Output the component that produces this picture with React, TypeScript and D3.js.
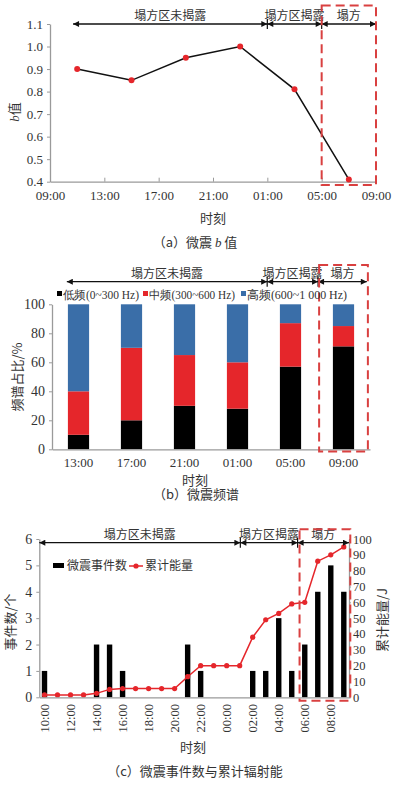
import { useEffect, useRef } from "react";
import * as d3 from "d3";

// (a) micro-seismic b value
const bTickLabels = ["09:00", "13:00", "17:00", "21:00", "01:00", "05:00", "09:00"];
const bHours = [2, 6, 10, 14, 18, 22]; // hours after 09:00
const bValues = [0.9, 0.85, 0.95, 1.0, 0.81, 0.41];
const bYTicks = [0.4, 0.5, 0.6, 0.7, 0.8, 0.9, 1.0, 1.1];

// (b) spectrum share
const specTimes = ["13:00", "17:00", "21:00", "01:00", "05:00", "09:00"];
const lowFreq = [10, 20, 30, 28, 57, 71];
const midFreq = [30, 50, 35, 32, 30, 14];
const highFreq = [60, 30, 35, 40, 13, 15];
const specTicks = [0, 20, 40, 60, 80, 100];
const specLegend = ["低频(0~300 Hz)", "中频(300~600 Hz)", "高频(600~1 000 Hz)"];

// (c) event counts and cumulative energy
const eventHours = [
    "10:00", "11:00", "12:00", "13:00", "14:00", "15:00", "16:00", "17:00",
    "18:00", "19:00", "20:00", "21:00", "22:00", "23:00", "00:00", "01:00",
    "02:00", "03:00", "04:00", "05:00", "06:00", "07:00", "08:00", "09:00",
];
const eventCounts = [1, 0, 0, 0, 2, 2, 1, 0, 0, 0, 0, 2, 1, 0, 0, 0, 1, 1, 3, 1, 2, 4, 5, 4];
const cumEnergy = [1.5, 1.5, 1.5, 1.5, 2.5, 5, 5.5, 5.5, 5.5, 5.5, 5.5, 13, 20, 20, 20, 20, 38, 49, 53, 59, 60, 86, 90, 95];
const countTicks = [0, 1, 2, 3, 4, 5, 6];
const energyTicks = [0, 10, 20, 30, 40, 50, 60, 70, 80, 90, 100];

// stage annotations
const phaseLabels = ["塌方区未揭露", "塌方区揭露", "塌方"];
const bPhases = [1.7, 16, 20, 24]; // hours after 09:00
const specPhases = [0.28, 4.06, 5.02, 5.94]; // in band steps
const eventPhases = [-0.4, 15.05, 19.45, 23.4]; // hour index

const NUM_FONT = "Liberation Serif, Times New Roman, DejaVu Serif, serif";
const CJK_FONT = "Noto Sans CJK SC, sans-serif";
const AXIS = "#9a9a9a";
const TEXT = "#333";
const RED = "#e5262b";
const DASH_RED = "#d94040";
const BLUE = "#3a6ea8";

export default function App() {
    const svgRef = useRef<SVGSVGElement>(null);

    useEffect(() => {
        if (!svgRef.current) return;
        const svg = d3.select(svgRef.current);
        svg.selectAll("*").remove();

        svg.append("defs")
            .append("marker")
            .attr("id", "arr")
            .attr("viewBox", "0 0 10 10")
            .attr("refX", 10)
            .attr("refY", 5)
            .attr("markerUnits", "userSpaceOnUse")
            .attr("markerWidth", 7)
            .attr("markerHeight", 6)
            .attr("orient", "auto-start-reverse")
            .append("path")
            .attr("d", "M0,0 L10,5 L0,10 z")
            .attr("fill", "#111");

        const g = svg.append("g");

        const styleAxis = (sel: any, fs = 13) => {
            sel.attr("font-family", NUM_FONT).attr("font-size", fs);
            sel.selectAll("path").attr("stroke", AXIS).attr("stroke-width", 1.3);
            sel.selectAll("line").attr("stroke", AXIS);
            sel.selectAll("text")
                .attr("fill", TEXT)
                .style("font-family", NUM_FONT)
                .attr("font-size", fs);
        };

        const drawPhases = (px: number[], y: number) => {
            for (let i = 0; i < 3; i++) {
                g.append("line")
                    .attr("x1", px[i])
                    .attr("x2", px[i + 1])
                    .attr("y1", y)
                    .attr("y2", y)
                    .attr("stroke", "#111")
                    .attr("stroke-width", 1.3)
                    .attr("marker-start", "url(#arr)")
                    .attr("marker-end", "url(#arr)");
                g.append("text")
                    .attr("x", (px[i] + px[i + 1]) / 2)
                    .attr("y", y - 4)
                    .attr("text-anchor", "middle")
                    .style("font-family", CJK_FONT)
                    .attr("font-size", 12)
                    .attr("fill", TEXT)
                    .text(phaseLabels[i]);
            }
            [px[1], px[2]].forEach((x) => {
                g.append("line")
                    .attr("x1", x)
                    .attr("x2", x)
                    .attr("y1", y - 5)
                    .attr("y2", y + 5)
                    .attr("stroke", "#111")
                    .attr("stroke-width", 1.2);
            });
        };

        const dashedBox = (x0: number, x1: number, y0: number, y1: number) => {
            g.append("rect")
                .attr("x", x0)
                .attr("y", y0)
                .attr("width", x1 - x0)
                .attr("height", y1 - y0)
                .attr("fill", "none")
                .attr("stroke", DASH_RED)
                .attr("stroke-width", 2)
                .attr("stroke-dasharray", "9,5");
        };

        const label = (x: number, y: number, txt: string, fs = 13, rotate = 0) => {
            return g.append("text")
                .attr("transform", `translate(${x},${y}) rotate(${rotate})`)
                .attr("text-anchor", "middle")
                .attr("dy", "0.35em")
                .style("font-family", CJK_FONT)
                .attr("font-size", fs)
                .attr("fill", TEXT)
                .text(txt);
        };

        // ---------- (a) b value ----------
        const xA = d3.scaleLinear().domain([0, 24]).range([50, 376]);
        const yA = d3.scaleLinear().domain([0.4, 1.1]).range([181.7, 24]);

        const axA = g.append("g")
            .attr("transform", `translate(0,${yA(0.4)})`)
            .call(
                d3.axisBottom(xA)
                    .tickValues(d3.range(0, 25, 4))
                    .tickFormat((d, i) => bTickLabels[i])
                    .tickSize(-4)
                    .tickSizeOuter(0)
                    .tickPadding(9),
            );
        styleAxis(axA);
        const ayA = g.append("g")
            .attr("transform", `translate(${xA(0)},0)`)
            .call(
                d3.axisLeft(yA)
                    .tickValues(bYTicks)
                    .tickFormat(d3.format(".1f"))
                    .tickSize(3)
                    .tickSizeOuter(0)
                    .tickPadding(4),
            );
        styleAxis(ayA);

        g.append("path")
            .datum(bValues)
            .attr("fill", "none")
            .attr("stroke", "#111")
            .attr("stroke-width", 1.5)
            .attr("d", d3.line<number>((d, i) => xA(bHours[i]), (d) => yA(d)));
        g.selectAll(".ptA")
            .data(bValues)
            .enter()
            .append("circle")
            .attr("cx", (d, i) => xA(bHours[i]))
            .attr("cy", (d) => yA(d))
            .attr("r", 3)
            .attr("fill", RED);

        drawPhases(bPhases.map((h) => xA(h)), yA(1.1));
        dashedBox(xA(20), xA(24), 5.5, 185);

        g.append("text")
            .attr("transform", `translate(14,112) rotate(-90)`)
            .attr("text-anchor", "middle")
            .attr("dy", "0.35em")
            .attr("font-size", 13)
            .attr("fill", TEXT)
            .call((t) => {
                t.append("tspan").style("font-family", NUM_FONT).attr("font-style", "italic").text("b");
                t.append("tspan").style("font-family", CJK_FONT).text("值");
            });
        label(xA(12), 218, "时刻");
        g.append("text")
            .attr("x", 195)
            .attr("y", 242)
            .attr("dy", "0.35em")
            .attr("text-anchor", "middle")
            .attr("font-size", 13)
            .attr("fill", TEXT)
            .call((t) => {
                t.append("tspan").style("font-family", CJK_FONT).text("（a）微震 ");
                t.append("tspan").style("font-family", NUM_FONT).attr("font-style", "italic").text("b");
                t.append("tspan").style("font-family", CJK_FONT).text(" 值");
            });

        // ---------- (b) spectrum ----------
        const xB = d3.scaleBand().domain(specTimes).range([52, 370]).paddingInner(0.6).paddingOuter(0.3);
        const yB = d3.scaleLinear().domain([0, 100]).range([449.3, 304.3]);
        const stackRows = specTimes.map((t, i) => ({ time: t, low: lowFreq[i], mid: midFreq[i], high: highFreq[i] }));
        const stack = d3.stack<any>().keys(["low", "mid", "high"])(stackRows);
        const specColors = ["#000", RED, BLUE];

        stack.forEach((layer, li) => {
            g.selectAll(`.bar${li}`)
                .data(layer)
                .enter()
                .append("rect")
                .attr("x", (d: any) => xB(d.data.time)!)
                .attr("width", xB.bandwidth())
                .attr("y", (d) => yB(d[1]))
                .attr("height", (d) => yB(d[0]) - yB(d[1]))
                .attr("fill", specColors[li]);
        });

        const axB = g.append("g")
            .attr("transform", `translate(0,${yB(0)})`)
            .call(d3.axisBottom(xB).tickSize(0).tickPadding(8));
        styleAxis(axB);
        const ayB = g.append("g")
            .attr("transform", `translate(52,0)`)
            .call(d3.axisLeft(yB).tickValues(specTicks).tickSize(3).tickSizeOuter(0).tickPadding(4));
        styleAxis(ayB, 14);

        const stepB = xB.step();
        const bx = (u: number) => 52 + u * stepB;
        drawPhases(specPhases.map(bx), 281.7);
        dashedBox(bx(5.04), bx(5.96), 265, 451.5);

        // legend (b)
        const legX = [57, 143, 241];
        const legW = [76, 86, 100];
        specLegend.forEach((txt, i) => {
            g.append("rect")
                .attr("x", legX[i])
                .attr("y", 291)
                .attr("width", 5)
                .attr("height", 5)
                .attr("fill", specColors[i]);
            g.append("text")
                .attr("x", legX[i] + 6)
                .attr("y", 294.5)
                .attr("dy", "0.35em")
                .style("font-family", NUM_FONT)
                .attr("font-size", 12)
                .attr("textLength", legW[i])
                .attr("lengthAdjust", "spacingAndGlyphs")
                .attr("fill", TEXT)
                .text(txt);
        });

        label(17, 377, "频谱占比/%", 13, -90);
        label(195, 480, "时刻");
        label(196, 494, "（b）微震频谱");

        // ---------- (c) events ----------
        const xC = d3.scalePoint().domain(eventHours).range([39.3, 349]).padding(0.4);
        const xCi = d3.scaleLinear().domain([0, 23]).range([xC(eventHours[0])!, xC(eventHours[23])!]);
        const yCount = d3.scaleLinear().domain([0, 6]).range([697.3, 539]);
        const yEnergy = d3.scaleLinear().domain([0, 100]).range([697.3, 539]);

        g.selectAll(".barC")
            .data(eventCounts)
            .enter()
            .append("rect")
            .attr("x", (d, i) => xC(eventHours[i])! - 2.7)
            .attr("width", 5.4)
            .attr("y", (d) => yCount(d))
            .attr("height", (d) => yCount(0) - yCount(d))
            .attr("fill", "#000");

        g.append("path")
            .datum(cumEnergy)
            .attr("fill", "none")
            .attr("stroke", RED)
            .attr("stroke-width", 1.5)
            .attr("d", d3.line<number>((d, i) => xC(eventHours[i])!, (d) => yEnergy(d)));
        g.selectAll(".ptC")
            .data(cumEnergy)
            .enter()
            .append("circle")
            .attr("cx", (d, i) => xC(eventHours[i])!)
            .attr("cy", (d) => yEnergy(d))
            .attr("r", 2.6)
            .attr("fill", RED);

        const axC = g.append("g")
            .attr("transform", `translate(0,${yCount(0)})`)
            .call(d3.axisBottom(xC).tickValues([]).tickSizeOuter(0));
        styleAxis(axC);
        eventHours.forEach((h, i) => {
            if (i % 2 !== 0) return;
            g.append("text")
                .attr("transform", `translate(${xC(h)},704) rotate(-90)`)
                .attr("text-anchor", "end")
                .attr("dy", "0.35em")
                .style("font-family", NUM_FONT)
                .attr("font-size", 12.5)
                .attr("fill", TEXT)
                .text(h);
        });
        const ayC = g.append("g")
            .attr("transform", `translate(39.3,0)`)
            .call(
                d3.axisLeft(yCount)
                    .tickValues(countTicks)
                    .tickFormat(d3.format("d"))
                    .tickSize(3)
                    .tickSizeOuter(0)
                    .tickPadding(4),
            );
        styleAxis(ayC, 14);
        const ayE = g.append("g")
            .attr("transform", `translate(349,0)`)
            .call(
                d3.axisRight(yEnergy)
                    .tickValues(energyTicks)
                    .tickFormat(d3.format("d"))
                    .tickSize(2)
                    .tickSizeOuter(0)
                    .tickPadding(2),
            );
        styleAxis(ayE, 12.5);

        drawPhases(eventPhases.map((u) => xCi(u)), 542.7);
        dashedBox(xCi(19.6), xCi(23.5), 529.3, 700.7);

        // legend (c)
        g.append("rect").attr("x", 53).attr("y", 563).attr("width", 11).attr("height", 5).attr("fill", "#000");
        g.append("text")
            .attr("x", 67).attr("y", 566).attr("dy", "0.35em")
            .style("font-family", CJK_FONT).attr("font-size", 12).attr("fill", TEXT)
            .text("微震事件数");
        g.append("line")
            .attr("x1", 129).attr("x2", 143).attr("y1", 566).attr("y2", 566)
            .attr("stroke", RED).attr("stroke-width", 1.5);
        g.append("circle").attr("cx", 136).attr("cy", 566).attr("r", 2.6).attr("fill", RED);
        g.append("text")
            .attr("x", 145).attr("y", 566).attr("dy", "0.35em")
            .style("font-family", CJK_FONT).attr("font-size", 12).attr("fill", TEXT)
            .text("累计能量");

        label(10, 622, "事件数/个", 13, -90);
        label(382, 620, "累计能量/J", 13, -90);
        label(193, 747, "时刻");
        label(195, 771, "（c）微震事件数与累计辐射能");
    }, []);

    return (
        <svg
            ref={svgRef}
            width={398}
            height={786}
            style={{ position: "absolute", left: 0, top: 0, background: "#fff" }}
        ></svg>
    );
}
